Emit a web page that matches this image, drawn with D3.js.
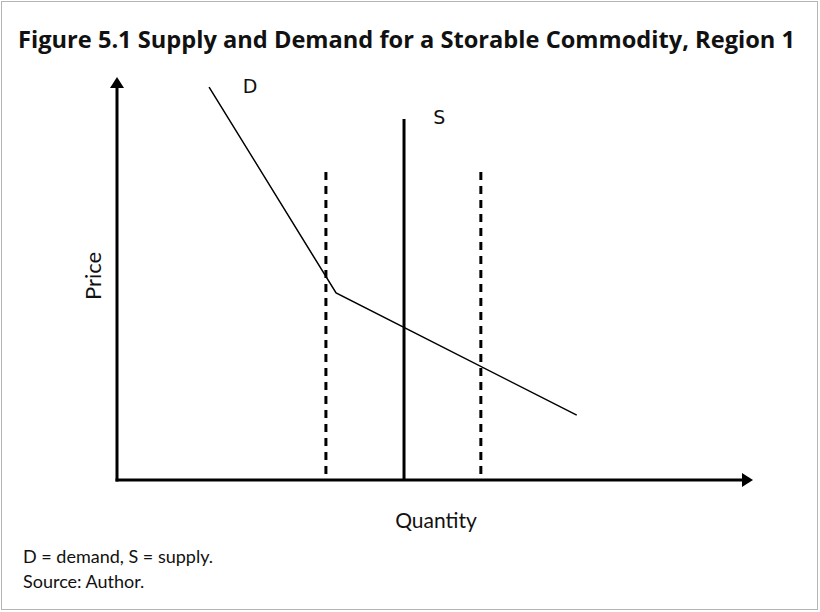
<!DOCTYPE html>
<html><head><meta charset="utf-8">
<script src="https://cdn.jsdelivr.net/npm/d3@7"></script>
<style>body{margin:0;background:#fff}svg{display:block}</style>
</head><body>
<script>
// Data (abstract units)
const title = "Figure 5.1  Supply and Demand for a Storable Commodity, Region 1";
const xLabel = "Quantity";
const yLabel = "Price";
const notes = ["D = demand, S = supply.", "Source: Author."];
const demandX = [1.45, 3.45, 7.24];
const demandY = [9.75, 4.64, 1.61];
const supplyX = [4.52, 4.52];
const supplyY = [0, 8.96];
const dashedX = [3.29, 5.73];
const dashedTop = 7.64;
const curveLabels = [{name: "D", x: 1.98, y: 9.6}, {name: "S", x: 4.98, y: 8.84}];

const W = 820, H = 612;
const svg = d3.select("body").append("svg").attr("width", W).attr("height", H);
svg.append("rect").attr("x", 1.5).attr("y", 1.5).attr("width", 816).attr("height", 608)
  .attr("fill", "#fff").attr("stroke", "#b5b5b5").attr("stroke-width", 1);

const x = d3.scaleLinear().domain([0, 10]).range([117, 752]);
const y = d3.scaleLinear().domain([0, 10]).range([480, 77]);

svg.append("text").attr("x", 18).attr("y", 48)
  .attr("font-family", "'Liberation Sans Narrow', 'Open Sans', sans-serif")
  .attr("font-weight", "bold").attr("font-size", 23)
  .attr("textLength", 777).attr("lengthAdjust", "spacingAndGlyphs")
  .attr("fill", "#111").text(title);

// axes
const g = svg.append("g");
g.append("line").attr("x1", x(0)).attr("x2", x(0)).attr("y1", y(0) + 1.5).attr("y2", y(10) + 10)
  .attr("stroke", "#000").attr("stroke-width", 3);
g.append("path").attr("d", `M${x(0)},${y(10)} L${x(0) - 7},${y(10) + 11} L${x(0) + 7},${y(10) + 11} Z`).attr("fill", "#000");
g.append("line").attr("x1", x(0) - 1.5).attr("x2", x(10) - 10).attr("y1", y(0)).attr("y2", y(0))
  .attr("stroke", "#000").attr("stroke-width", 3);
g.append("path").attr("d", `M${x(10) + 1},${y(0)} L${x(10) - 10},${y(0) - 7} L${x(10) - 10},${y(0) + 7} Z`).attr("fill", "#000");

// dashed lines
g.selectAll(".dash").data(dashedX).join("line")
  .attr("x1", d => x(d)).attr("x2", d => x(d)).attr("y1", y(dashedTop)).attr("y2", y(0))
  .attr("stroke", "#000").attr("stroke-width", 3).attr("stroke-dasharray", "8,6");

// supply
g.append("line").attr("x1", x(supplyX[0])).attr("x2", x(supplyX[1]))
  .attr("y1", y(supplyY[0])).attr("y2", y(supplyY[1]))
  .attr("stroke", "#000").attr("stroke-width", 3);

// demand
const pts = demandX.map((d, i) => [x(d), y(demandY[i])]);
g.append("path").attr("d", d3.line()(pts)).attr("fill", "none")
  .attr("stroke", "#000").attr("stroke-width", 1.5);

// curve labels
g.selectAll(".cl").data(curveLabels).join("text")
  .attr("x", d => x(d.x)).attr("y", d => y(d.y))
  .attr("font-family", "'DejaVu Sans', sans-serif").attr("font-size", 19)
  .attr("fill", "#111").text(d => d.name);

// axis labels
svg.append("text").attr("x", 436).attr("y", 528).attr("text-anchor", "middle")
  .attr("font-family", "Lato, sans-serif").attr("font-size", 21).attr("fill", "#111").text(xLabel);
svg.append("text").attr("transform", "translate(101,276) rotate(-90)").attr("text-anchor", "middle")
  .attr("font-family", "Lato, sans-serif").attr("font-size", 22).attr("fill", "#111").text(yLabel);

svg.selectAll(".note").data(notes).join("text")
  .attr("x", 23).attr("y", (d, i) => 563 + i * 25)
  .attr("font-family", "Lato, sans-serif").attr("font-size", 18).attr("fill", "#111").text(d => d);
</script>
</body></html>
